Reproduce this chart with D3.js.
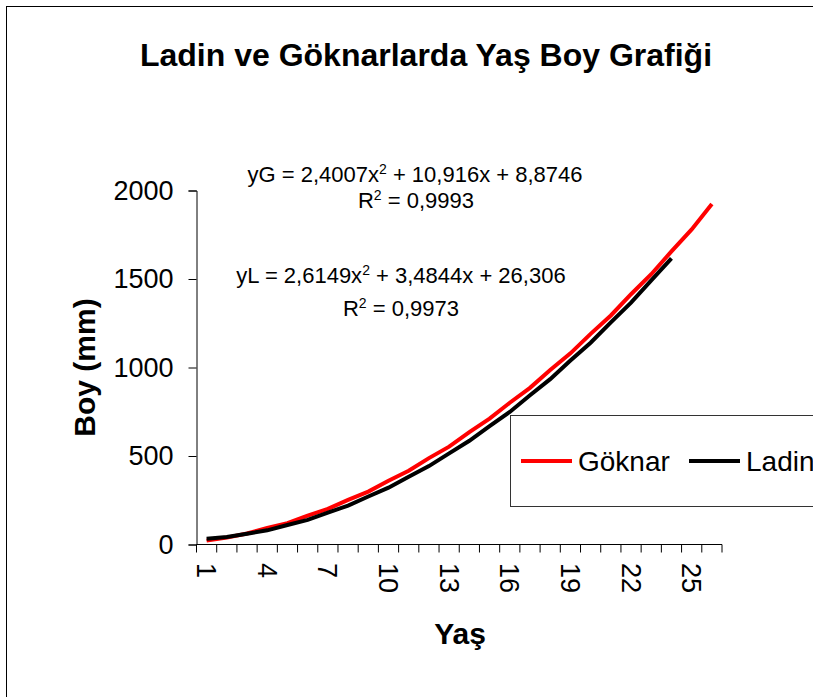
<!DOCTYPE html>
<html>
<head>
<meta charset="utf-8">
<script src="https://cdn.jsdelivr.net/npm/d3@7"></script>
<style>
  body { margin: 0; background: #fff; }
  svg { display: block; font-family: "Liberation Sans", Arial, sans-serif; }
</style>
</head>
<body>
<svg id="chart" width="813" height="697"></svg>
<script>
// ages (Yaş) 1..26
const ages = [1, 2, 3, 4, 5, 6, 7, 8, 9, 10, 11, 12, 13, 14, 15, 16, 17, 18, 19, 20, 21, 22, 23, 24, 25, 26];
// heights (Boy, mm)
const goknar = [22, 39, 62, 93, 121, 163, 201, 252, 299, 360, 417, 488, 553, 635, 711, 801, 885, 986, 1080, 1190, 1294, 1414, 1527, 1656, 1780, 1924];
const ladin = [33, 42, 61, 80, 110, 139, 180, 220, 271, 321, 383, 443, 515, 586, 669, 749, 843, 934, 1039, 1140, 1255, 1366, 1492, 1617];
const yTicks = [0, 500, 1000, 1500, 2000];
const xTickLabels = [1, 4, 7, 10, 13, 16, 19, 22, 25];
const seriesNames = ['Göknar', 'Ladin'];
const seriesColors = ['#ff0000', '#000000'];

const svg = d3.select('#chart');

const plotLeft = 196.5, plotRight = 722, plotTop = 190.5, plotBottom = 544.5;

const xScale = d3.scaleBand()
    .domain(ages)
    .range([plotLeft, plotRight]);

const yScale = d3.scaleLinear()
    .domain([0, 2000])
    .range([plotBottom, plotTop]);

// outer frame
svg.append('rect')
    .attr('x', 6.5).attr('y', 6.5)
    .attr('width', 900).attr('height', 720)
    .attr('fill', 'none').attr('stroke', '#000').attr('stroke-width', 1);

// title
svg.append('text')
    .attr('x', 426).attr('y', 66)
    .attr('text-anchor', 'middle')
    .style('font-size', '32px').style('font-weight', 'bold')
    .text('Ladin ve Göknarlarda Yaş Boy Grafiği');

// y axis
const yAxis = d3.axisLeft(yScale)
    .tickValues(yTicks)
    .tickFormat(d3.format('d'))
    .tickSize(8)
    .tickPadding(15);

const gy = svg.append('g')
    .attr('transform', `translate(${plotLeft}, 0)`)
    .call(yAxis);
gy.attr('font-family', null).attr('font-size', null);
gy.select('.domain').attr('stroke', '#000');
gy.selectAll('.tick line').attr('stroke', '#000');
gy.selectAll('.tick text').style('font-size', '27px').attr('fill', '#000');

// x axis: ticks between categories, labels every 3rd age
svg.append('line')
    .attr('x1', plotLeft).attr('x2', plotRight)
    .attr('y1', plotBottom).attr('y2', plotBottom)
    .attr('stroke', '#000');

const edges = ages.map(d => xScale(d)).concat([plotRight]);
svg.append('g').selectAll('line')
    .data(edges)
    .enter()
    .append('line')
    .attr('x1', d => d).attr('x2', d => d)
    .attr('y1', plotBottom).attr('y2', plotBottom + 8)
    .attr('stroke', '#000');

svg.append('g').selectAll('text')
    .data(xTickLabels)
    .enter()
    .append('text')
    .attr('transform', d => `translate(${xScale(d) + xScale.bandwidth() / 2}, 563) rotate(90)`)
    .attr('dy', '0.35em')
    .style('font-size', '27px')
    .text(d => d);

// axis titles
svg.append('text')
    .attr('transform', `translate(95, ${(plotTop + plotBottom) / 2}) rotate(-90)`)
    .attr('text-anchor', 'middle')
    .style('font-size', '30px').style('font-weight', 'bold')
    .text('Boy (mm)');

svg.append('text')
    .attr('x', 460).attr('y', 644)
    .attr('text-anchor', 'middle')
    .style('font-size', '30px').style('font-weight', 'bold')
    .text('Yaş');

// lines
const line = d3.line()
    .x((d, i) => xScale(ages[i]) + xScale.bandwidth() / 2)
    .y(d => yScale(d));

svg.append('path')
    .datum(goknar)
    .attr('d', line)
    .attr('fill', 'none')
    .attr('stroke', seriesColors[0])
    .attr('stroke-width', 4);

svg.append('path')
    .datum(ladin)
    .attr('d', line)
    .attr('fill', 'none')
    .attr('stroke', seriesColors[1])
    .attr('stroke-width', 4);

// trendline equations
function equation(x, y, parts) {
    const t = svg.append('text')
        .attr('x', x).attr('y', y)
        .attr('text-anchor', 'middle')
        .style('font-size', '22px');
    parts.forEach(p => {
        if (p.sup) {
            t.append('tspan').attr('dy', -8).style('font-size', '14px').text(p.sup);
            t.append('tspan').attr('dy', 8).text(p.after);
        } else {
            t.append('tspan').text(p.t);
        }
    });
}

equation(415, 182, [{ t: 'yG = 2,4007x' }, { sup: '2', after: ' + 10,916x + 8,8746' }]);
equation(416, 208, [{ t: 'R' }, { sup: '2', after: ' = 0,9993' }]);
equation(401, 283, [{ t: 'yL = 2,6149x' }, { sup: '2', after: ' + 3,4844x + 26,306' }]);
equation(401, 316, [{ t: 'R' }, { sup: '2', after: ' = 0,9973' }]);

// legend (runs off the right edge, as in the source)
const legend = svg.append('g');
legend.append('rect')
    .attr('x', 510.5).attr('y', 415.5)
    .attr('width', 400).attr('height', 91)
    .attr('fill', '#fff').attr('stroke', '#333').attr('stroke-width', 1);

const legendX = [521, 689];
seriesNames.forEach((name, i) => {
    legend.append('line')
        .attr('x1', legendX[i]).attr('x2', legendX[i] + 51)
        .attr('y1', 461).attr('y2', 461)
        .attr('stroke', seriesColors[i]).attr('stroke-width', 4);
    legend.append('text')
        .attr('x', legendX[i] + 57).attr('y', 461)
        .attr('dy', '0.35em')
        .style('font-size', '28px')
        .text(name);
});
</script>
</body>
</html>
